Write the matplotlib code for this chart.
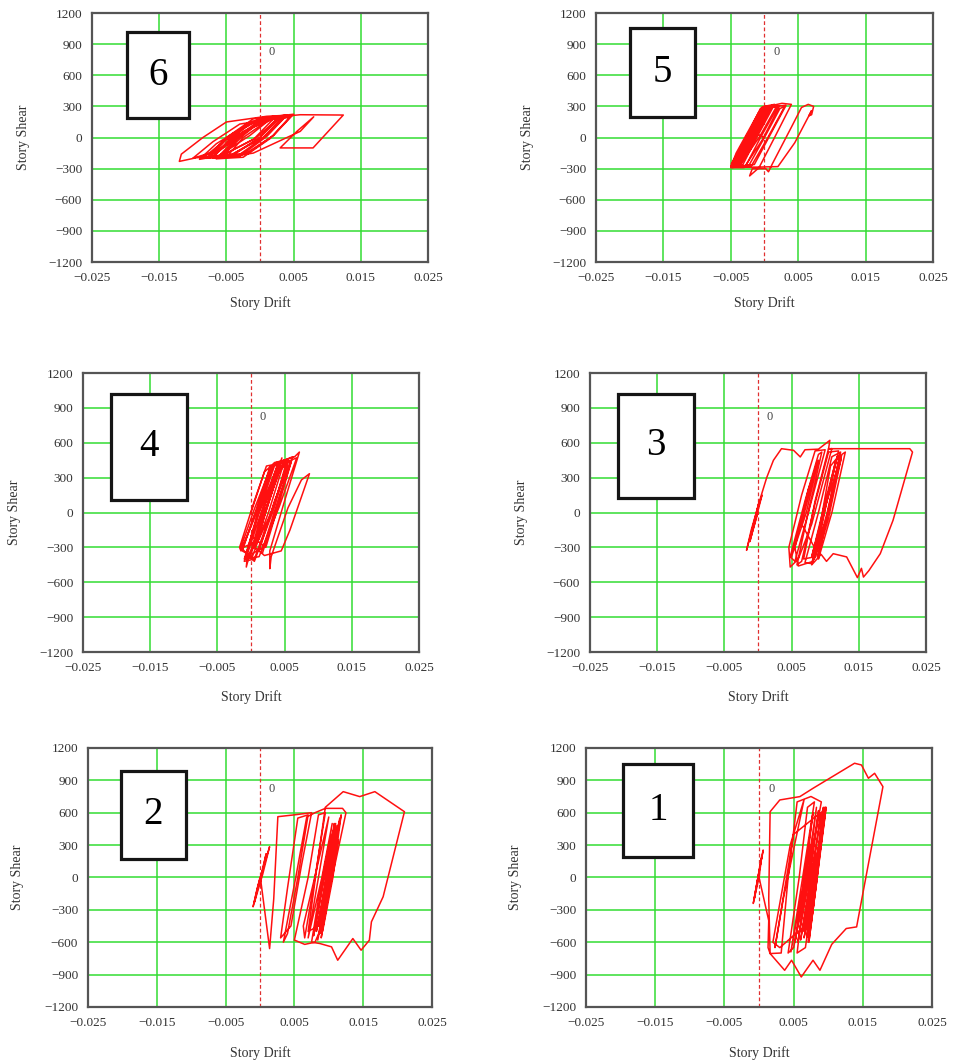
import numpy as np
import matplotlib.pyplot as plt
from matplotlib.patches import Rectangle

plt.rcParams['font.family'] = ['Liberation Serif', 'DejaVu Serif']

# axis ticks shared by every panel
x_ticks = [-0.025, -0.015, -0.005, 0.005, 0.015, 0.025]
x_labels = ['\u22120.025', '\u22120.015', '\u22120.005', '0.005', '0.015', '0.025']
y_ticks = [-1200, -900, -600, -300, 0, 300, 600, 900, 1200]
y_labels = ['\u22121200', '\u2212900', '\u2212600', '\u2212300', '0', '300', '600', '900', '1200']

# story drift in 1e-3 units, story shear
drift6 = [0, 2.5, 4.5, 1.5, -2.5, -6.5, -3.5, 0.5, 3.5, 0.5, -3.5, -8, -5, -1, 5, 2, -2, -9.5, -12, -11.7,
          -8.5, -5, 1, 4, 1, -3, -7, -4.5, -0.5, 3, 0, -4, -6, -3, 1, 6, 12.4, 7.9, 3, 5.5, 8, 6, 2, -1,
          -5, -2.5, 1.5, 4.5, 2, -2, -7.5, -5, -1, 2.5, 0, -4, -5.5, -2.5, 0, -6, -10, -7, -3, 2, -1, -5.5, -9, -6.5, -2,
          -7, -3, 2, -1.5, -6, -8.5, -4, 0.5, 4, 0.5, -5, -7.5, -2.5, 3, -0.5, -6.5]
shear6 = [0, 170, 200, -10, -190, -205, 0, 195, 210, 0, -185, -200, 0, 180, 225, 20, -160, -195, -230, -160,
          0, 150, 205, 215, 10, -180, -195, -10, 170, 195, 0, -170, -185, 10, 190, 220, 217, -100, -100, 60, 200, 60, -60, -150,
          -190, 0, 180, 200, 20, -150, -190, -20, 160, 185, 0, -160, -170, 20, 150, -120, -200, -40, 130, 180, -20, -170, -210, -60, 120,
          -180, 30, 200, 20, -170, -200, 40, 190, 215, 0, -190, -180, 60, 205, 0, -200]

drift5 = [0, 2.3, 3, 0.5, -2, -4.9, -4.9, -0.2, 1.2, -1.2, -3.6, -4.7, -2.2, 0.2, 2, -0.5, -2.8, -5, -4.2, -0.8,
          0.8, -1.5, -4, -4.9, -2.8, -0.1, 1.5, -0.9, -3.2, -4.4, -1.8, 0.5, 2.6, 4, 1.5, -0.8, -2.2, -1.8, 0.2, 0.6,
          1.2, 4, 5.5, 6.5, 7.3, 7, 6.6, 7, 4.5, 2, -1, -4, -1.5, 1, 3.2, 0.8, -1.5, -4.5, -3, -0.5, -3.9, -4.6,
          -1.7, 0.6, -1.9, -4.3, -2.4, 0.8, 2.2, -0.3, -3, -4.8, -2, 0,
          -2.4, -4.7, -0.3, 1.0, -1.6, -4.2, -4.9, -0.4, 0.6, -1.9, -4.6, -3.5, -0.1, 1.8, -0.7, -3.8, -4.8, -0.6, 0.3, -2.3, -4.9]
shear5 = [0, 280, 300, 0, -280, -285, -250, 296, 305, 20, -270, -280, 20, 290, 300, 10, -275, -290, -150, 250,
          280, 0, -280, -270, 0, 300, 320, 30, -260, -275, 50, 300, 330, 320, 0, -290, -370, -300, -300, -330,
          -250, 100, 290, 320, 300, 220, 210, 260, -50, -280, -285, -285, 20, 300, 310, 20, -260, -280, -100, 200, -270, -280,
          100, 300, 0, -280, -40, 290, 300, -20, -290, -290, 60, 0,
          -280, -280, 296, 300, 0, -280, -270, 290, 300, 0, -280, -150, 290, 300, 10, -280, -285, 280, 300, 0, -285]

drift4 = [0, 2, 3, 0.5, -1.5, -1.7, 0.5, 2.3, 4, 1.5, -0.5, -0.7, -0.3, 2, 4, 5.5, 3, 0.5, -1, 1, 3.3, 6.5,
          7.2, 5, 2.8, 2.8, 3, 5.5, 7.5, 8.7, 8.2, 5.8, 4.5, 2, 1.2, 3.5, 5.8, 4, 1.8, 0, 2.2, 4.6, 3, 0.8,
          -1.2, 1, 3.5, 5, 2.6, 0.2, -1.3, 1.5, 2.8, 6, 4, 1.7, 0.5, 3, 4.5, 2, 0.4, -0.9, 1.2, 3.8, 5.2, 3.4, 1,
          3.5, 5.5, 6.8, 4.2, 1.2, -1, 0.8, 3.6, 5.6, 3.2, 0.5, -1.5, 0.5, 3, 6.2, 4.8, 2.2, 0]
shear4 = [0, 350, 400, -50, -330, -300, 100, 400, 420, 0, -350, -469, -380, 60, 420, 440, 0, -400, -420, 0, 420, 480,
          520, 100, -330, -483, -380, 40, 280, 334, 250, -150, -330, -370, -330, 100, 430, 100, -300, -360, 80, 470, 150, -250,
          -300, 50, 430, 450, 0, -380, -330, 150, 390, 440, 80, -350, -300, 150, 400, 0, -300, -400, 0, 380, 420, 50, -250,
          300, 440, 470, 50, -380, -400, -60, 420, 450, 0, -420, -300, 30, 400, 480, 200, -300, -200]

drift3 = [0, -1, -0.2, 0.6, -0.5, -1.2, 0.2, -0.9, -1.7, -1, 0.5, 1.3, 2.3, 3.5, 5.3, 6.3, 7, 9, 10.7, 10.5,
          11, 8, 6, 4.8, 4.6, 6.5, 8.5, 10, 7.5, 5.5, 4.8, 7, 9, 9.5, 7.4, 5.8, 6.5, 8.5, 10.5, 12,
          9.8, 8, 7, 9, 11, 12.3, 10.3, 8.5, 6.8, 8.5, 10.5, 14, 18, 22.6, 23, 20.1, 18.2, 16.5, 15.7, 15.4,
          14.8, 13.2, 11.2, 10.2, 9.4, 8, 10, 12.5, 13, 11, 9, 9.3, 11.2, 12.4, 10.5, 8.8, 10.5, 12, 10, 8.2,
          6, 5.5, 7.5, 9, 7.2, 5, 7, 8.8, 6.5, 8.6, 10.8, 12.2, 10.2, 8.4, 9.8, 11.6, 9.6, 8, 10.2, 11.8,
          10.6, 9.2]
shear3 = [0, -200, 0, 150, -100, -250, 100, -150, -325, -150, 150, 300, 449, 549, 535, 478, 540, 545, 621, 545,
          550, -100, -400, -469, -300, 150, 530, 540, 0, -420, -380, 100, 500, 520, -20, -450, -420, 80, 520, 530,
          -20, -440, -430, 0, 480, 520, 0, -380, -400, 100, 549, 549, 549, 549, 520, -67, -354, -500, -555, -480,
          -560, -382, -354, -420, -360, -450, 50, 500, 520, 0, -400, -300, 200, 470, -50, -380, 20, 400, -100, -420,
          -460, -300, 200, 450, 0, -380, 50, 440, -100, -320, 400, 500, -50, -400, 0, 450, 0, -380, 100, 480,
          200, -200]

drift2 = [0, -1, -0.4, 1.4, 0.4, -0.8, 0.9, 0.1, 1.4, 2, 2.6, 5, 7.5, 6, 4.5, 3, 4, 5.5, 7, 5.5, 4, 3.4,
          5.2, 6.8, 8, 9.5, 12, 12.5, 10.5, 9, 8, 6.5, 5, 7, 8.5, 9.5, 8, 6.5, 6.3, 8.5, 10, 8.5, 7, 9,
          10.5, 9.3, 7.8, 8.5, 10.2, 10.8, 9.5, 8.2, 9.8, 11.2, 10, 8.7, 10, 11.4, 9.5, 8.5, 7, 8.5, 9.5, 12.1,
          14.5, 16.7, 21, 17.9, 16.2, 15.9, 14.7, 13.5, 11.3, 10.4, 8.7, 7.5, 8.5, 10, 11, 10, 8.8, 9.8, 11, 10.2,
          9.2, 10.5, 9.7, 9, 10.6, 9.4, 10.9, 9.6,
          10.8, 9.8, 8.6, 10.4, 11.6, 10.3, 8.9, 9.5, 11, 11.8, 10.6, 9.1, 10.2, 11.5, 9.9, 8.4, 9.9, 11.2]
shear2 = [0, -272, -100, 285, 30, -230, 220, -20, -659, -200, 563, 580, 600, 100, -450, -560, -100, 550, 580, 0, -520, -600,
          0, 560, 600, 640, 640, 600, 0, -450, -600, -620, -580, 0, 580, 600, 0, -560, -450, 150, 560, 0, -560, 0,
          500, 0, -540, -300, 300, 450, -50, -500, 0, 480, -100, -520, -50, 350, -200, -450, -500, 200, 650, 795,
          749, 795, 609, -179, -411, -581, -674, -566, -767, -643, -612, -600, -200, 300, 500, 0, -400, -100, 300, 0,
          -300, 200, -100, -250, 400, -200, 450, -150,
          500, 0, -520, 100, 550, -50, -560, -300, 300, 580, 0, -500, 0, 520, -100, -580, 0, 450]

drift1 = [0, -0.84, -0.3, 0.6, 0, -0.7, 0.4, 0, 1.4, 1.3, 1.6, 1.4, 1.6, 3, 5.9, 7.8, 13.8, 14.8, 15.8, 16.7,
          17.9, 15, 14.1, 12.6, 10.5, 8.8, 7.8, 6.1, 4.7, 3.7, 1.6, 3.2, 4.2, 5.5, 7.5, 9, 7, 5, 4.2, 5.8,
          7, 8, 6.3, 4.6, 6.3, 7.8, 6.6, 5.2, 6.8, 8.3, 7, 5.6, 7.2, 8.6, 7.4, 6, 7.6, 9, 9.5, 8, 6.5, 7.3,
          9.2, 7.8, 6.5, 8, 9.6, 8.2, 7, 8.4, 9.4, 8.1, 7.3, 8.8, 9.7, 8.3, 7.5, 3, 2, 4.5, 6.5, 3.5, 2.3, 5,
          8.9, 7.6, 6.9, 8.5, 9.3, 8, 7.1, 7.8, 9, 9.6, 8.4, 7.2, 8.2, 9.4, 8.1, 6.7, 5.5, 7.3]
shear1 = [0, -241, -50, 254, 60, -200, 200, 0, -400, -650, -705, -200, 609, 718, 749, 826, 1058, 1042, 919, 965,
          841, -148, -458, -473, -620, -860, -767, -922, -767, -860, -705, -700, 0, 700, 750, 700, 0, -650, -700, 0,
          650, 700, 0, -690, -100, 600, 0, -600, 0, 650, -50, -600, 0, 620, 0, -580, 0, 600, 650, 0, -560, -300,
          500, -20, -500, 100, 600, -100, -550, 100, 620, 0, -450, 300, 650, 0, -400, -650, -600, 300, 720, -200, -650, 400,
          600, 0, -550, 200, 650, 0, -600, -300, 400, 650, 0, -600, -100, 600, 0, -650, -700, 300]

panels = [
    ('6', drift6, shear6, [0.0964, 0.7535, 0.3522, 0.2342], [0.104, 0.578, 0.185, 0.346], 0.137),
    ('5', drift5, shear5, [0.6247, 0.7535, 0.3532, 0.2342], [0.102, 0.583, 0.191, 0.357], 0.137),
    ('4', drift4, shear4, [0.0870, 0.3866, 0.3522, 0.2625], [0.084, 0.544, 0.227, 0.382], 0.136),
    ('3', drift3, shear3, [0.6184, 0.3866, 0.3522, 0.2625], [0.084, 0.553, 0.226, 0.373], 0.136),
    ('2', drift2, shear2, [0.0922, 0.0527, 0.3606, 0.2437], [0.097, 0.573, 0.187, 0.338], 0.150),
    ('1', drift1, shear1, [0.6143, 0.0527, 0.3627, 0.2437], [0.108, 0.580, 0.202, 0.358], 0.150),
]

fig = plt.figure(figsize=(9.54, 10.63), dpi=100)

for name, drift, shear, pos, box, xl in panels:
    ax = fig.add_axes(pos)
    ax.set_xlim(-0.025, 0.025)
    ax.set_ylim(-1200, 1200)
    ax.set_xticks(x_ticks)
    ax.set_xticklabels(x_labels)
    ax.set_yticks(y_ticks)
    ax.set_yticklabels(y_labels)
    ax.tick_params(length=0, labelsize=9.5, colors='#333333', pad=7)
    ax.grid(True, color='#33dd33', lw=1.1)
    ax.set_axisbelow(True)
    for sp in ax.spines.values():
        sp.set_color('#555555')
        sp.set_linewidth(1.6)

    ax.axvline(0, color='#e03030', lw=0.9, ls=(0, (3, 2)), zorder=2)
    ax.plot(np.array(drift) * 1e-3, shear, color='#ff1010', lw=1.1, zorder=3)

    ax.text(0.0013, 820, '0', fontsize=9, color='#444444', ha='left', va='center')
    ax.add_patch(Rectangle((box[0], box[1]), box[2], box[3], transform=ax.transAxes,
                           facecolor='white', edgecolor='#151515', lw=2.3, zorder=5))
    ax.text(box[0] + box[2] / 2, box[1] + box[3] / 2, name, transform=ax.transAxes,
            fontsize=28, ha='center', va='center', zorder=6)

    ax.set_xlabel('Story Drift', fontsize=10, color='#333333')
    ax.set_ylabel('Story Shear', fontsize=10, color='#333333')
    ax.xaxis.set_label_coords(0.5, -xl)
    ax.yaxis.set_label_coords(-0.185, 0.5)

fig.savefig('out.png', dpi=100)
